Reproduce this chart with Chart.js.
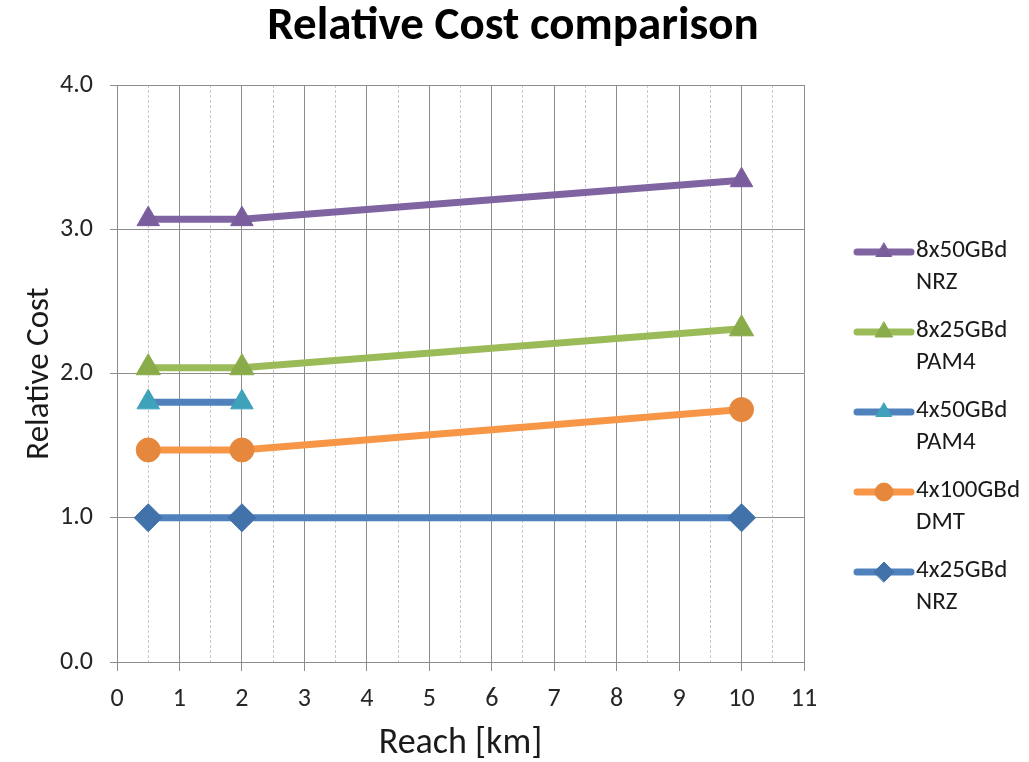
<!DOCTYPE html>
<html>
<head>
<meta charset="utf-8">
<script src="https://cdn.jsdelivr.net/npm/chart.js@4.4.1/dist/chart.umd.min.js"></script>
<style>
  html, body { margin: 0; padding: 0; background: #fff; }
  #wrap { width: 1029px; height: 762px; }
</style>
</head>
<body>
<div id="wrap"><canvas id="chart" width="1029" height="762"></canvas></div>
<script>
// Reach values (km) shared by all series
const reachKm = [0.5, 2, 10];

// Relative cost per series (null = no point)
const cost8x50NRZ = [3.07, 3.07, 3.34];
const cost8x25PAM4 = [2.04, 2.04, 2.31];
const cost4x50PAM4 = [1.80, 1.80, null];
const cost4x100DMT = [1.47, 1.47, 1.75];
const cost4x25NRZ = [1.0, 1.0, 1.0];

const seriesNames = ['8x50GBd\nNRZ', '8x25GBd\nPAM4', '4x50GBd\nPAM4', '4x100GBd\nDMT', '4x25GBd\nNRZ'];

const xTicks = [0, 1, 2, 3, 4, 5, 6, 7, 8, 9, 10, 11];
const yTicks = [0, 1, 2, 3, 4];

const FONT = 'Carlito, Calibri, Lato, "Open Sans", sans-serif';

function toPoints(values) {
  return reachKm.map((x, i) => ({ x, y: values[i] })).filter(p => p.y !== null);
}

function series(label, values, lineColor, markerColor, style, radius) {
  return {
    label,
    data: toPoints(values),
    borderColor: lineColor,
    backgroundColor: markerColor,
    borderWidth: 7,
    pointStyle: style,
    pointRadius: radius,
    pointHoverRadius: radius,
    pointBackgroundColor: markerColor,
    pointBorderColor: markerColor,
    pointBorderWidth: 1,
    tension: 0,
    fill: false,
    legendRadius: Math.round(radius * 0.72)
  };
}

const datasets = [
  series(seriesNames[4], cost4x25NRZ, '#4f81bd', '#4272aa', 'rectRot', 14),
  series(seriesNames[3], cost4x100DMT, '#f79646', '#e5883d', 'circle', 12),
  series(seriesNames[2], cost4x50PAM4, '#4f81bd', '#3ea2ba', 'triangle', 13),
  series(seriesNames[1], cost8x25PAM4, '#9bbb59', '#8aab4a', 'triangle', 14),
  series(seriesNames[0], cost8x50NRZ, '#8064a2', '#7a5d9d', 'triangle', 13)
];

// Title drawn at a fixed spot above the plot
const titlePlugin = {
  id: 'fixedTitle',
  afterDraw(chart) {
    const ctx = chart.ctx;
    ctx.save();
    ctx.font = 'bold 47px ' + FONT;
    ctx.fillStyle = '#000';
    ctx.textAlign = 'center';
    ctx.textBaseline = 'alphabetic';
    ctx.fillText('Relative Cost comparison', 513, 39);
    ctx.restore();
  }
};

// Legend on the right with two-line labels
const legendPlugin = {
  id: 'sideLegend',
  afterDraw(chart) {
    const ctx = chart.ctx;
    const order = chart.data.datasets.slice().reverse();
    const x0 = 857, x1 = 911, xm = 884, tx = 916;
    ctx.save();
    order.forEach((ds, i) => {
      const y = 252 + i * 80;
      ctx.strokeStyle = ds.borderColor;
      ctx.lineWidth = 7;
      ctx.lineCap = 'round';
      ctx.beginPath();
      ctx.moveTo(x0, y);
      ctx.lineTo(x1, y);
      ctx.stroke();
      ctx.fillStyle = ds.pointBackgroundColor;
      ctx.strokeStyle = ds.pointBorderColor;
      ctx.lineWidth = 1;
      Chart.helpers.drawPoint(ctx, { pointStyle: ds.pointStyle, radius: ds.legendRadius, rotation: 0, borderWidth: 1 }, xm, y);
      ctx.fillStyle = '#1a1a1a';
      ctx.font = '25px ' + FONT;
      ctx.textAlign = 'left';
      ctx.textBaseline = 'middle';
      ds.label.split('\n').forEach((line, j) => {
        ctx.fillText(line, tx, y - 1 + j * 32);
      });
    });
    ctx.restore();
  }
};

const isMajor = v => Math.abs(v - Math.round(v)) < 1e-6;

new Chart(document.getElementById('chart'), {
  type: 'line',
  data: { datasets },
  options: {
    responsive: false,
    animation: false,
    events: [],
    layout: { padding: { top: 85, right: 225, left: 16, bottom: 0 } },
    plugins: {
      legend: { display: false },
      title: { display: false },
      tooltip: { enabled: false }
    },
    scales: {
      x: {
        type: 'linear',
        min: xTicks[0],
        max: xTicks[xTicks.length - 1],
        afterFit(scale) { scale.height = 100; },
        afterBuildTicks(scale) {
          const t = [];
          xTicks.forEach((v, i) => {
            t.push({ value: v });
            if (i < xTicks.length - 1) t.push({ value: v + 0.5 });
          });
          scale.ticks = t;
        },
        ticks: {
          autoSkip: false,
          maxRotation: 0,
          padding: 13,
          color: '#262626',
          font: { size: 26, family: FONT },
          callback: v => isMajor(v) ? String(v) : ''
        },
        grid: {
          drawOnChartArea: true,
          color: c => (c.tick && !isMajor(c.tick.value)) ? '#c9c9c9' : '#8c8c8c',
          lineWidth: 1,
          tickLength: 9,
          tickColor: c => (c.tick && !isMajor(c.tick.value)) ? 'rgba(0,0,0,0)' : '#8c8c8c'
        },
        border: {
          color: '#8c8c8c',
          width: 1,
          dash: c => (c.tick && !isMajor(c.tick.value)) ? [3, 2] : []
        },
        title: {
          display: true,
          text: 'Reach [km]',
          color: '#1a1a1a',
          font: { size: 36, family: FONT, lineHeight: 0.8 }
        }
      },
      y: {
        min: yTicks[0],
        max: yTicks[yTicks.length - 1],
        afterFit(scale) { scale.width = 101; },
        afterBuildTicks(scale) { scale.ticks = yTicks.map(v => ({ value: v })); },
        ticks: {
          padding: 17,
          color: '#262626',
          font: { size: 26, family: FONT },
          callback: v => v.toFixed(1)
        },
        grid: {
          color: '#8c8c8c',
          lineWidth: 1,
          tickLength: 7,
          tickColor: '#8c8c8c'
        },
        border: { color: '#8c8c8c', width: 1 },
        title: {
          display: true,
          text: 'Relative Cost',
          color: '#1a1a1a',
          font: { size: 33, family: FONT }
        }
      }
    }
  },
  plugins: [titlePlugin, legendPlugin]
});
</script>
</body>
</html>
